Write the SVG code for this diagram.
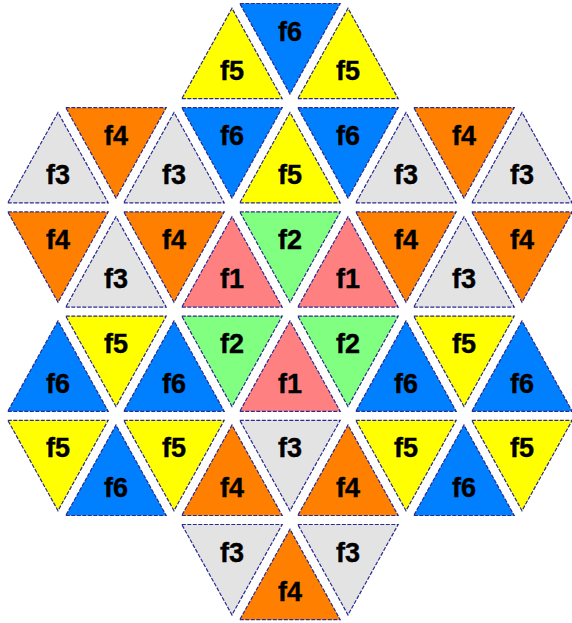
<svg xmlns="http://www.w3.org/2000/svg" width="572" height="623" viewBox="0 0 572 623">
<style>
polygon{stroke:#2a2a90;stroke-width:1.2;stroke-dasharray:4 1.5;stroke-linejoin:miter}
.f1{fill:#ff8080}.f2{fill:#80ff80}.f3{fill:#e3e3e3}.f4{fill:#ff8000}.f5{fill:#ffff00}.f6{fill:#0080ff}
text{font-family:"Liberation Sans",Arial,sans-serif;font-weight:bold;font-size:27px;fill:#000;stroke:#000;stroke-width:0.4;text-anchor:middle}
</style>
<rect width="572" height="623" fill="#fff"/>
<g id="r0c1"><polygon class="f5" points="181.8,98.7 282.2,98.7 232,8.3"/><text x="232" y="80">f5</text></g>
<g id="r0c2"><polygon class="f6" points="239.8,3.5 340.2,3.5 290,93.9"/><text x="290" y="40.5">f6</text></g>
<g id="r0c3"><polygon class="f5" points="297.8,98.7 398.2,98.7 348,8.3"/><text x="348" y="80">f5</text></g>

<g id="r1c1"><polygon class="f3" points="7.8,202.9 108.2,202.9 58,112.5"/><text x="58" y="184.2">f3</text></g>
<g id="r1c2"><polygon class="f4" points="65.8,107.7 166.2,107.7 116,198.1"/><text x="116" y="144.7">f4</text></g>
<g id="r1c3"><polygon class="f3" points="123.8,202.9 224.2,202.9 174,112.5"/><text x="174" y="184.2">f3</text></g>
<g id="r1c4"><polygon class="f6" points="181.8,107.7 282.2,107.7 232,198.1"/><text x="232" y="144.7">f6</text></g>
<g id="r1c5"><polygon class="f5" points="239.8,202.9 340.2,202.9 290,112.5"/><text x="290" y="184.2">f5</text></g>
<g id="r1c6"><polygon class="f6" points="297.8,107.7 398.2,107.7 348,198.1"/><text x="348" y="144.7">f6</text></g>
<g id="r1c7"><polygon class="f3" points="355.8,202.9 456.2,202.9 406,112.5"/><text x="406" y="184.2">f3</text></g>
<g id="r1c8"><polygon class="f4" points="413.8,107.7 514.2,107.7 464,198.1"/><text x="464" y="144.7">f4</text></g>
<g id="r1c9"><polygon class="f3" points="471.8,202.9 572.2,202.9 522,112.5"/><text x="522" y="184.2">f3</text></g>

<g id="r2c1"><polygon class="f4" points="7.8,211.9 108.2,211.9 58,302.3"/><text x="58" y="248.9">f4</text></g>
<g id="r2c2"><polygon class="f3" points="65.8,307.1 166.2,307.1 116,216.7"/><text x="116" y="288.4">f3</text></g>
<g id="r2c3"><polygon class="f4" points="123.8,211.9 224.2,211.9 174,302.3"/><text x="174" y="248.9">f4</text></g>
<g id="r2c4"><polygon class="f1" points="181.8,307.1 282.2,307.1 232,216.7"/><text x="232" y="288.4">f1</text></g>
<g id="r2c5"><polygon class="f2" points="239.8,211.9 340.2,211.9 290,302.3"/><text x="290" y="248.9">f2</text></g>
<g id="r2c6"><polygon class="f1" points="297.8,307.1 398.2,307.1 348,216.7"/><text x="348" y="288.4">f1</text></g>
<g id="r2c7"><polygon class="f4" points="355.8,211.9 456.2,211.9 406,302.3"/><text x="406" y="248.9">f4</text></g>
<g id="r2c8"><polygon class="f3" points="413.8,307.1 514.2,307.1 464,216.7"/><text x="464" y="288.4">f3</text></g>
<g id="r2c9"><polygon class="f4" points="471.8,211.9 572.2,211.9 522,302.3"/><text x="522" y="248.9">f4</text></g>

<g id="r3c1"><polygon class="f6" points="7.8,411.3 108.2,411.3 58,320.9"/><text x="58" y="392.6">f6</text></g>
<g id="r3c2"><polygon class="f5" points="65.8,316.1 166.2,316.1 116,406.5"/><text x="116" y="353.1">f5</text></g>
<g id="r3c3"><polygon class="f6" points="123.8,411.3 224.2,411.3 174,320.9"/><text x="174" y="392.6">f6</text></g>
<g id="r3c4"><polygon class="f2" points="181.8,316.1 282.2,316.1 232,406.5"/><text x="232" y="353.1">f2</text></g>
<g id="r3c5"><polygon class="f1" points="239.8,411.3 340.2,411.3 290,320.9"/><text x="290" y="392.6">f1</text></g>
<g id="r3c6"><polygon class="f2" points="297.8,316.1 398.2,316.1 348,406.5"/><text x="348" y="353.1">f2</text></g>
<g id="r3c7"><polygon class="f6" points="355.8,411.3 456.2,411.3 406,320.9"/><text x="406" y="392.6">f6</text></g>
<g id="r3c8"><polygon class="f5" points="413.8,316.1 514.2,316.1 464,406.5"/><text x="464" y="353.1">f5</text></g>
<g id="r3c9"><polygon class="f6" points="471.8,411.3 572.2,411.3 522,320.9"/><text x="522" y="392.6">f6</text></g>

<g id="r4c1"><polygon class="f5" points="7.8,420.3 108.2,420.3 58,510.7"/><text x="58" y="457.3">f5</text></g>
<g id="r4c2"><polygon class="f6" points="65.8,515.5 166.2,515.5 116,425.1"/><text x="116" y="496.8">f6</text></g>
<g id="r4c3"><polygon class="f5" points="123.8,420.3 224.2,420.3 174,510.7"/><text x="174" y="457.3">f5</text></g>
<g id="r4c4"><polygon class="f4" points="181.8,515.5 282.2,515.5 232,425.1"/><text x="232" y="496.8">f4</text></g>
<g id="r4c5"><polygon class="f3" points="239.8,420.3 340.2,420.3 290,510.7"/><text x="290" y="457.3">f3</text></g>
<g id="r4c6"><polygon class="f4" points="297.8,515.5 398.2,515.5 348,425.1"/><text x="348" y="496.8">f4</text></g>
<g id="r4c7"><polygon class="f5" points="355.8,420.3 456.2,420.3 406,510.7"/><text x="406" y="457.3">f5</text></g>
<g id="r4c8"><polygon class="f6" points="413.8,515.5 514.2,515.5 464,425.1"/><text x="464" y="496.8">f6</text></g>
<g id="r4c9"><polygon class="f5" points="471.8,420.3 572.2,420.3 522,510.7"/><text x="522" y="457.3">f5</text></g>

<g id="r5c1"><polygon class="f3" points="181.8,524.5 282.2,524.5 232,614.9"/><text x="232" y="561.5">f3</text></g>
<g id="r5c2"><polygon class="f4" points="239.8,619.7 340.2,619.7 290,529.3"/><text x="290" y="601">f4</text></g>
<g id="r5c3"><polygon class="f3" points="297.8,524.5 398.2,524.5 348,614.9"/><text x="348" y="561.5">f3</text></g>
</svg>
